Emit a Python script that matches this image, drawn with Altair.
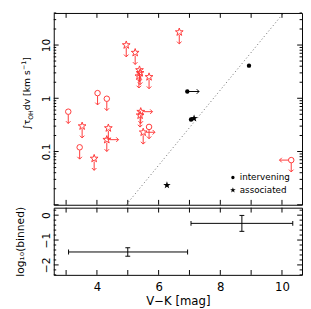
import math
import altair as alt
import pandas as pd

RED = "#ff3838"
FONT = "DejaVu Sans"

# ---------------- data ----------------
# detections: intervening (filled circles) and associated (filled stars)
int_x = [8.93, 6.93, 7.05]
int_y = [4.1, 1.34, 0.40]
int_xlim = [0, 1, 0]          # 1 = lower limit on V-K (arrow to the right)
ass_x = [7.15, 6.27]
ass_y = [0.42, 0.0233]

# non-detections (red upper limits)
lim_circle_x = [3.07, 3.44, 4.02, 4.32, 5.69, 10.30]
lim_circle_y = [0.56, 0.12, 1.25, 0.98, 0.29, 0.069]
lim_circle_xlim = [0, 0, 0, 0, 0, -1]
lim_star_x = [3.52, 3.91, 4.37, 4.32, 4.95, 5.24, 5.38, 5.40, 5.36, 5.69, 6.67, 5.42, 5.40, 5.50]
lim_star_y = [0.30, 0.074, 0.276, 0.167, 10.0, 7.2, 3.4, 3.0, 2.6, 2.52, 17.5, 0.56, 0.48, 0.23]
lim_star_xlim = [0, 0, 0, 1, 0, 0, 0, 0, 0, 0, 0, 1, 0, 1]

# dotted relation
line_x = [4.95, 10.05]
line_y = [0.01, 40.0]

# binned panel
bin_x = [5.0, 8.7]
bin_xlo = [3.08, 7.05]
bin_xhi = [6.94, 10.35]
bin_y = [-1.48, -0.33]
bin_ylo = [-1.65, -0.65]
bin_yhi = [-1.31, -0.01]

# ticks / labels
x_ticks = [3, 4, 5, 6, 7, 8, 9, 10]
x_labels = [4, 6, 8, 10]
y_major = [0.01, 0.1, 1, 10]
y_minor = [0.02, 0.03, 0.04, 0.05, 0.06, 0.07, 0.08, 0.09,
           0.2, 0.3, 0.4, 0.5, 0.6, 0.7, 0.8, 0.9,
           2, 3, 4, 5, 6, 7, 8, 9, 20, 30, 40]
y_labels = [0.1, 1, 10]
low_major = [0, -1, -2]
low_minor = [-2.4, -2.2, -1.8, -1.6, -1.4, -1.2, -0.8, -0.6, -0.4, -0.2, 0.2]
legend_labels = ["intervening", "associated"]

# ---------------- layout/style ----------------
W, HU, HL = 255, 197, 69
DOWN = 0.6     # ~12 px downward arrow on log axis
ARR = 0.38     # ~12 px horizontal arrow
MAJ, MIN = 5, 2.5


def star_path(inner=0.4):
    pts = []
    for k in range(10):
        r = 1.0 if k % 2 == 0 else inner
        a = math.radians(-90 + 36 * k)
        pts.append(f"{r * math.cos(a):.3f} {r * math.sin(a):.3f}")
    return "M " + " L ".join(pts) + " Z"


STAR = star_path()
DOWN_HEAD = "M -1 -1 L 0 0 L 1 -1"
RIGHT_HEAD = "M -1 -1 L 0 0 L -1 1"
LEFT_HEAD = "M 1 -1 L 0 0 L 1 1"

xs = alt.Scale(domain=[2.6, 10.65], nice=False, zero=False)
ys = alt.Scale(type="log", domain=[0.01, 40], nice=False)
yl = alt.Scale(domain=[-2.4, 0.3], nice=False, zero=False)

y_up_axis = alt.Axis(values=y_labels, format="~g", labelAngle=270, labelAlign="center",
                     labelBaseline="alphabetic", labelPadding=4, ticks=False, tickSize=0,
                     domain=False, grid=False, title=None, labelFont=FONT, labelFontSize=11,
                     labelColor="black", labelFlush=False, labelOverlap=False)
y_low_axis = alt.Axis(values=low_major, format="d", labelAngle=270, labelAlign="center",
                      labelBaseline="alphabetic", labelPadding=4, ticks=False, tickSize=0,
                      domain=False, grid=False, labelFont=FONT, labelFontSize=11,
                      labelColor="black", labelFlush=False, labelOverlap=False,
                      title="log₁₀(binned)", titleX=-31, titleY=HL / 2, titleAngle=270,
                      titleAlign="center", titleBaseline="alphabetic", titleFont=FONT,
                      titleFontSize=11, titleFontWeight="normal", titleColor="black")
x_low_axis = alt.Axis(values=x_labels, format="d", ticks=False, tickSize=0, domain=False,
                      grid=False, labelPadding=7, labelFont=FONT, labelFontSize=12,
                      labelColor="black", labelFlush=False, title="V−K [mag]",
                      titleFont=FONT, titleFontSize=12, titleFontWeight="normal",
                      titlePadding=3, titleColor="black")


def ux(f="x"):
    return alt.X(f, type="quantitative", scale=xs, axis=None)


def uy(f="y"):
    return alt.Y(f, type="quantitative", scale=ys, axis=y_up_axis)


def lx(f="x"):
    return alt.X(f, type="quantitative", scale=xs, axis=x_low_axis)


def ly(f="y"):
    return alt.Y(f, type="quantitative", scale=yl, axis=y_low_axis)


red_c = pd.DataFrame({"x": lim_circle_x, "y": lim_circle_y, "xl": lim_circle_xlim})
red_s = pd.DataFrame({"x": lim_star_x, "y": lim_star_y, "xl": lim_star_xlim})
red_all = pd.concat([red_c, red_s], ignore_index=True)
ints = pd.DataFrame({"x": int_x, "y": int_y, "xl": int_xlim})
blk = pd.DataFrame({"x": int_x + ass_x, "y": int_y + ass_y,
                    "type": [legend_labels[0]] * len(int_x) + [legend_labels[1]] * len(ass_x)})
line_df = pd.DataFrame({"x": line_x, "y": line_y})

layers = []
layers.append(alt.Chart(line_df).mark_line(color="#666", strokeDash=[1, 2.6], strokeWidth=1, clip=True)
              .encode(x=ux(), y=uy()))

# ticks (inward) for upper panel
xt = pd.DataFrame({"t": x_ticks})
ymj = pd.DataFrame({"t": y_major})
ymn = pd.DataFrame({"t": y_minor})
layers.append(alt.Chart(xt).mark_rule(color="black").encode(x=ux("t"), y=alt.value(0), y2=alt.value(MAJ)))
layers.append(alt.Chart(xt).mark_rule(color="black").encode(x=ux("t"), y=alt.value(HU), y2=alt.value(HU - MAJ)))
for df, ln in ((ymj, MAJ), (ymn, MIN)):
    layers.append(alt.Chart(df).mark_rule(color="black").encode(y=uy("t"), x=alt.value(0), x2=alt.value(ln)))
    layers.append(alt.Chart(df).mark_rule(color="black").encode(y=uy("t"), x=alt.value(W), x2=alt.value(W - ln)))

# red upper-limit arrows
layers.append(alt.Chart(red_all).transform_calculate(y2=f"datum.y*{DOWN}")
              .mark_rule(color=RED, yOffset=3).encode(x=ux(), y=uy(), y2="y2:Q"))
layers.append(alt.Chart(red_all).transform_calculate(y2=f"datum.y*{DOWN}")
              .mark_point(shape=DOWN_HEAD, size=22, filled=False, color=RED, opacity=1, strokeWidth=1)
              .encode(x=ux(), y=uy("y2")))
layers.append(alt.Chart(red_all).transform_filter("datum.xl == 1")
              .transform_calculate(x2=f"datum.x+{ARR}")
              .mark_rule(color=RED, xOffset=3).encode(x=ux(), x2="x2:Q", y=uy()))
layers.append(alt.Chart(red_all).transform_filter("datum.xl == 1")
              .transform_calculate(x2=f"datum.x+{ARR}")
              .mark_point(shape=RIGHT_HEAD, size=22, filled=False, color=RED, opacity=1, strokeWidth=1)
              .encode(x=ux("x2"), y=uy()))
layers.append(alt.Chart(red_all).transform_filter("datum.xl == -1")
              .transform_calculate(x2=f"datum.x-{ARR}")
              .mark_rule(color=RED, xOffset=-3).encode(x=ux(), x2="x2:Q", y=uy()))
layers.append(alt.Chart(red_all).transform_filter("datum.xl == -1")
              .transform_calculate(x2=f"datum.x-{ARR}")
              .mark_point(shape=LEFT_HEAD, size=22, filled=False, color=RED, opacity=1, strokeWidth=1)
              .encode(x=ux("x2"), y=uy()))
layers.append(alt.Chart(red_c).mark_point(shape="circle", size=32, filled=False, color=RED,
                                          opacity=1, strokeWidth=1).encode(x=ux(), y=uy()))
layers.append(alt.Chart(red_s).mark_point(shape=STAR, size=70, filled=False, color=RED,
                                          opacity=1, strokeWidth=1).encode(x=ux(), y=uy()))

# black lower-limit arrow
layers.append(alt.Chart(ints).transform_filter("datum.xl == 1")
              .transform_calculate(x2=f"datum.x+{ARR}")
              .mark_rule(color="black").encode(x=ux(), x2="x2:Q", y=uy()))
layers.append(alt.Chart(ints).transform_filter("datum.xl == 1")
              .transform_calculate(x2=f"datum.x+{ARR}")
              .mark_point(shape=RIGHT_HEAD, size=22, filled=False, color="black", opacity=1, strokeWidth=1)
              .encode(x=ux("x2"), y=uy()))

# black detections
type_shape = alt.Scale(domain=legend_labels, range=["circle", STAR])
type_size = alt.Scale(domain=legend_labels, range=[20, 64])
layers.append(alt.Chart(blk).mark_point(filled=True, color="black", opacity=1).encode(
    x=ux(), y=uy(),
    shape=alt.Shape("type:N", scale=type_shape, legend=None),
    size=alt.Size("type:N", scale=type_size, legend=None),
))

# legend drawn inside the panel (bottom-right)
LX, LY0, LDY = 184, HU - 28, 13
for i, lab in enumerate(legend_labels):
    ldf = pd.DataFrame({"type": [lab]})
    layers.append(alt.Chart(ldf).mark_point(filled=True, color="black", opacity=1,
                                            size=[12, 36][i], shape=["circle", STAR][i])
                  .encode(x=alt.value(LX), y=alt.value(LY0 + i * LDY)))
    layers.append(alt.Chart(ldf).mark_text(font=FONT, fontSize=9, align="left", baseline="middle",
                                           color="black")
                  .encode(x=alt.value(LX + 7), y=alt.value(LY0 + i * LDY), text="type:N"))

# y title of upper panel, composed of pieces (rotated)
one = pd.DataFrame({"a": [0]})
pieces = [("∫τ", 9.5, -24, 120.0), ("OH", 6.5, -21, 109.8), ("dv [km s", 9.5, -24, 99.8),
          ("−1", 6.5, -28, 58.7), ("]", 9.5, -24, 49.1)]
for txt, fs, xx, yy in pieces:
    layers.append(alt.Chart(one).mark_text(text=txt, font=FONT, fontSize=fs, angle=270, align="left",
                                           baseline="alphabetic", color="black")
                  .encode(x=alt.value(xx), y=alt.value(yy)))

upper = alt.layer(*layers).properties(width=W, height=HU)

# ---------------- lower panel ----------------
bins = pd.DataFrame({"x": bin_x, "xlo": bin_xlo, "xhi": bin_xhi, "y": bin_y, "ylo": bin_ylo, "yhi": bin_yhi})
lt = []
lt.append(alt.Chart(bins).mark_rule(color="black").encode(x=lx("xlo"), x2="xhi:Q", y=ly()))
lt.append(alt.Chart(bins).mark_rule(color="black").encode(x=lx(), y=ly("ylo"), y2="yhi:Q"))
lt.append(alt.Chart(bins).mark_tick(orient="vertical", size=5, thickness=1, color="black", opacity=1)
          .encode(x=lx("xlo"), y=ly()))
lt.append(alt.Chart(bins).mark_tick(orient="vertical", size=5, thickness=1, color="black", opacity=1)
          .encode(x=lx("xhi"), y=ly()))
lt.append(alt.Chart(bins).mark_tick(orient="horizontal", size=5, thickness=1, color="black", opacity=1)
          .encode(x=lx(), y=ly("ylo")))
lt.append(alt.Chart(bins).mark_tick(orient="horizontal", size=5, thickness=1, color="black", opacity=1)
          .encode(x=lx(), y=ly("yhi")))
lmj = pd.DataFrame({"t": low_major})
lmn = pd.DataFrame({"t": low_minor})
lt.append(alt.Chart(xt).mark_rule(color="black").encode(x=lx("t"), y=alt.value(0), y2=alt.value(MAJ)))
lt.append(alt.Chart(xt).mark_rule(color="black").encode(x=lx("t"), y=alt.value(HL), y2=alt.value(HL - MAJ)))
for df, ln in ((lmj, MAJ), (lmn, MIN)):
    lt.append(alt.Chart(df).mark_rule(color="black").encode(y=ly("t"), x=alt.value(0), x2=alt.value(ln)))
    lt.append(alt.Chart(df).mark_rule(color="black").encode(y=ly("t"), x=alt.value(W), x2=alt.value(W - ln)))

lower = alt.layer(*lt).properties(width=W, height=HL)

chart = (alt.vconcat(upper, lower, spacing=0)
         .properties(padding={"left": 6, "top": 0, "right": 0, "bottom": 0}, background="white")
         .configure_view(stroke="black", strokeWidth=1))

chart.save("out.html", embed_options={"renderer": "svg", "actions": False})
